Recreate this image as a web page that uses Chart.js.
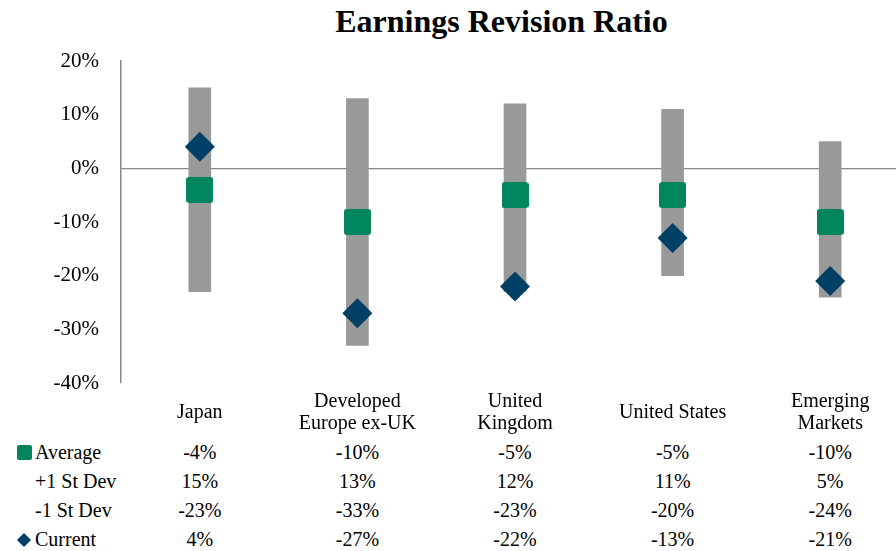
<!DOCTYPE html>
<html lang="en">
<head>
<meta charset="UTF-8">
<title>Earnings Revision Ratio</title>
<script src="https://cdn.jsdelivr.net/npm/chart.js"></script>
<style>
  html, body { margin: 0; padding: 0; background: #fff; }
  body { width: 896px; height: 551px; overflow: hidden; position: relative;
         font-family: "Liberation Serif", "Times New Roman", serif; color: #000; }
  #wrap { position: absolute; left: 0; top: 0; width: 912px; height: 418px; }
  #wrap canvas { max-width: none; }
  .title { position: absolute; left: 0; top: 5px; width: 1003px; text-align: center;
           font-size: 32px; line-height: 32px; font-weight: bold; }
  .cell { position: absolute; font-size: 20px; line-height: 22px; white-space: nowrap;
          text-align: center; transform: translateX(-50%); }
  .rowlabel { position: absolute; left: 35px; font-size: 20px; line-height: 22px; white-space: nowrap; }
  .mark-sq { position: absolute; left: 17px; top: 445px; width: 15px; height: 15px;
             background: #00855f; border-radius: 2px; }
  .mark-dia { position: absolute; left: 19px; top: 535px; width: 10px; height: 10px;
              background: #003f66; transform: rotate(45deg); }
</style>
</head>
<body>
<div class="title">Earnings Revision Ratio</div>
<div id="wrap"><canvas id="chart"></canvas></div>
<div id="table"></div>

<script>
// Data
const categories = [['Japan'], ['Developed', 'Europe ex-UK'], ['United', 'Kingdom'], ['United States'], ['Emerging', 'Markets']];
const average = [-4, -10, -5, -5, -10];
const stDevHigh = [15, 13, 12, 11, 5];
const stDevLow = [-23, -33, -23, -20, -24];
const current = [4, -27, -22, -13, -21];
const yTicks = [-40, -30, -20, -10, 0, 10, 20];

// Green rounded square marker
const sq = document.createElement('canvas');
sq.width = 27;
sq.height = 26;
const sctx = sq.getContext('2d');
sctx.fillStyle = '#00855f';
sctx.beginPath();
if (sctx.roundRect) sctx.roundRect(0, 0, 27, 26, 3); else sctx.rect(0, 0, 27, 26);
sctx.fill();

const chart = new Chart(document.getElementById('chart'), {
  data: {
    labels: categories.map(c => c.join(' ')),
    datasets: [
      {
        type: 'line',
        label: 'Current',
        data: current,
        showLine: false,
        pointStyle: 'rectRot',
        pointRadius: 15,
        pointBackgroundColor: '#003f66',
        pointBorderWidth: 0,
        order: 1
      },
      {
        type: 'line',
        label: 'Average',
        data: average,
        showLine: false,
        pointStyle: sq,
        pointRadius: 13,
        order: 2
      },
      {
        type: 'bar',
        label: 'St Dev range',
        data: stDevLow.map((lo, i) => [lo, stDevHigh[i]]),
        backgroundColor: '#999999',
        barThickness: 22,
        order: 3
      }
    ]
  },
  options: {
    responsive: true,
    maintainAspectRatio: false,
    devicePixelRatio: 1,
    animation: false,
    events: [],
    // y tick padding adds ~35px minimum at the bottom, so the canvas is 418 tall
    layout: { autoPadding: false, padding: { left: 0, top: 61, right: 3, bottom: 35 } },
    plugins: {
      legend: { display: false },
      tooltip: { enabled: false },
      title: { display: false }
    },
    scales: {
      x: { display: false },
      y: {
        min: -40,
        max: 20,
        afterFit: s => { s.width = 121; },
        afterBuildTicks: s => { s.ticks = yTicks.map(v => ({ value: v })); },
        ticks: {
          padding: 22,
          color: '#000',
          font: { family: 'Liberation Serif', size: 21 },
          callback: v => v + '%'
        },
        grid: {
          drawTicks: false,
          lineWidth: 1.3,
          color: c => (c.tick && c.tick.value === 0 ? '#888888' : 'rgba(0,0,0,0)')
        },
        border: { display: true, color: '#888888', width: 1.5 }
      }
    }
  }
});

// Data table under the chart, columns aligned to the category centres
const table = document.getElementById('table');
const xs = categories.map((c, i) => chart.scales.x.getPixelForValue(i));

function addCell(text, x, top) {
  const d = document.createElement('div');
  d.className = 'cell';
  d.style.left = x + 'px';
  d.style.top = top + 'px';
  d.innerHTML = text;
  table.appendChild(d);
}

categories.forEach((lines, i) => {
  addCell(lines.join('<br>'), xs[i], 418 - 11 * (lines.length - 1) - 18);
});

const rows = [
  { label: 'Average', values: average, baseline: 459 },
  { label: '+1 St Dev', values: stDevHigh, baseline: 488 },
  { label: '-1 St Dev', values: stDevLow, baseline: 517 },
  { label: 'Current', values: current, baseline: 546 }
];

rows.forEach(r => {
  const l = document.createElement('div');
  l.className = 'rowlabel';
  l.style.top = (r.baseline - 18) + 'px';
  l.textContent = r.label;
  table.appendChild(l);
  r.values.forEach((v, i) => addCell(v + '%', xs[i], r.baseline - 18));
});

const m1 = document.createElement('div');
m1.className = 'mark-sq';
table.appendChild(m1);
const m2 = document.createElement('div');
m2.className = 'mark-dia';
table.appendChild(m2);
</script>
</body>
</html>
